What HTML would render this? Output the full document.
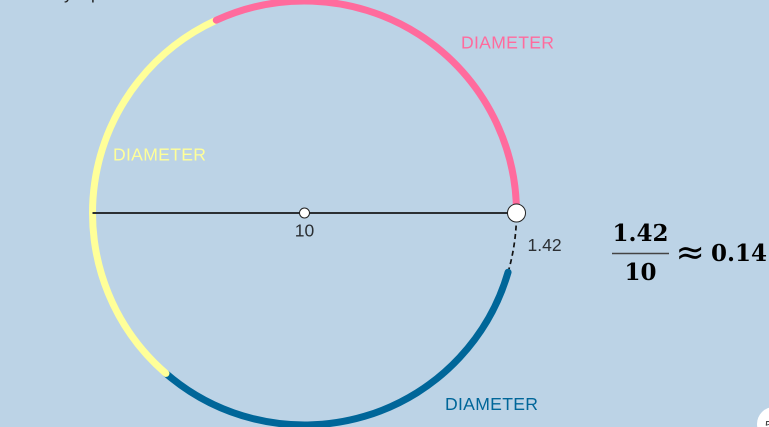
<!DOCTYPE html>
<html lang="en">
<head>
<meta charset="utf-8">
<title>Pi radians circle</title>
<style>
  html, body { margin: 0; padding: 0; }
  body { width: 769px; height: 427px; overflow: hidden; background: #bcd3e6; }
  svg { display: block; position: absolute; left: 0; top: 0; }
  text { font-family: "Liberation Sans", Arial, sans-serif; }
  .arc { fill: none; stroke-width: 7; stroke-linecap: round; }
  .arc-0 { stroke: #ff6b9d; }
  .arc-1 { stroke: #ffff99; }
  .arc-2 { stroke: #006699; }
  .arc-3 { fill: none; stroke: #111; stroke-width: 1.7; stroke-dasharray: 5 3.5; }
  .lbl-0 { fill: #ff6b9d; }
  .lbl-1 { fill: #ffff99; }
  .lbl-2 { fill: #006699; }
  .math { font-family: "DejaVu Serif", "Liberation Serif", serif; font-weight: bold; font-size: 23px; fill: #000; }
  .approx { font-family: "DejaVu Sans", sans-serif; font-size: 35px; fill: #000; }
</style>
</head>
<body>
<svg id="chart" width="769" height="427" viewBox="0 0 769 427" xmlns="http://www.w3.org/2000/svg">
  <text x="64" y="-1" font-size="17" fill="#222">y</text>
  <text x="91" y="-1" font-size="17" fill="#222">p</text>
  <g id="arcs"></g>
  <line id="diameter-line" stroke="#2b2f33" stroke-width="2"></line>
  <circle id="center-point" r="5" fill="#fff" stroke="#222" stroke-width="1"></circle>
  <circle id="drag-point" r="9" fill="#fff" stroke="#222" stroke-width="1"></circle>
  <text x="461" y="48.5" font-size="17.6" textLength="93" class="lbl-0">DIAMETER</text>
  <text x="113" y="160.5" font-size="17.6" textLength="93" class="lbl-1">DIAMETER</text>
  <text x="445" y="410" font-size="17.6" textLength="93" class="lbl-2">DIAMETER</text>
  <text id="diameter-value" x="304.5" y="236.5" font-size="17.5" text-anchor="middle" fill="#2b2f33"></text>
  <text id="remainder-value" x="527.5" y="251" font-size="17.5" fill="#2b2f33"></text>
  <text id="frac-num" x="640.5" y="241" text-anchor="middle" class="math"></text>
  <line x1="612" x2="669" y1="253.5" y2="253.5" stroke="#444" stroke-width="1.5"></line>
  <text id="frac-den" x="640.5" y="280" text-anchor="middle" class="math"></text>
  <text x="675.5" y="264" class="approx">≈</text>
  <text id="frac-result" x="711" y="261" class="math"></text>
  <circle cx="774" cy="424" r="17" fill="#fff"></circle>
  <text x="765" y="430" font-size="13" fill="#444">5</text>
</svg>
<script>
  // Data: lengths walked around the circle, in the same units as the diameter.
  var diameterValue = 10;
  var arcLengths = [10, 10, 10, 1.42];
  var arcNames = ['pink-arc', 'yellow-arc', 'blue-arc', 'remainder-arc'];
  var approxResult = 0.14;

  // Axis functions: arc length along the circle -> pixel position.
  var cx = 304.5, cy = 213, radius = 212;
  function angleOf(length) { return length / (diameterValue / 2); }
  function px(length) { return cx + radius * Math.cos(angleOf(length)); }
  function py(length) { return cy - radius * Math.sin(angleOf(length)); }

  var SVG_NS = 'http://www.w3.org/2000/svg';
  var arcsGroup = document.getElementById('arcs');
  var starts = [];
  var total = 0;
  arcLengths.forEach(function (len) { starts.push(total); total += len; });

  // Later arcs are painted first so each earlier arc's rounded end sits on top.
  for (var i = arcLengths.length - 1; i >= 0; i--) {
    var from = starts[i];
    var to = from + arcLengths[i];
    var largeArc = angleOf(arcLengths[i]) > Math.PI ? 1 : 0;
    var path = document.createElementNS(SVG_NS, 'path');
    path.setAttribute('d', 'M' + px(from) + ' ' + py(from) +
      ' A' + radius + ' ' + radius + ' 0 ' + largeArc + ' 0 ' + px(to) + ' ' + py(to));
    path.setAttribute('class', i < 3 ? 'arc arc-' + i : 'arc-3');
    
    
    arcsGroup.appendChild(path);
  }

  // The diameter spans half the circumference, from the start point to its opposite.
  var halfTurn = Math.PI * diameterValue / 2;
  var line = document.getElementById('diameter-line');
  line.setAttribute('x1', px(halfTurn));
  line.setAttribute('y1', py(halfTurn));
  line.setAttribute('x2', px(0));
  line.setAttribute('y2', py(0));

  var centerPoint = document.getElementById('center-point');
  centerPoint.setAttribute('cx', cx);
  centerPoint.setAttribute('cy', cy);
  var dragPoint = document.getElementById('drag-point');
  dragPoint.setAttribute('cx', px(0));
  dragPoint.setAttribute('cy', py(0));

  var remainder = arcLengths[arcLengths.length - 1];
  document.getElementById('diameter-value').textContent = String(diameterValue);
  document.getElementById('remainder-value').textContent = String(remainder);
  document.getElementById('frac-num').textContent = String(remainder);
  document.getElementById('frac-den').textContent = String(diameterValue);
  document.getElementById('frac-result').textContent = String(approxResult);
</script>
</body>
</html>
